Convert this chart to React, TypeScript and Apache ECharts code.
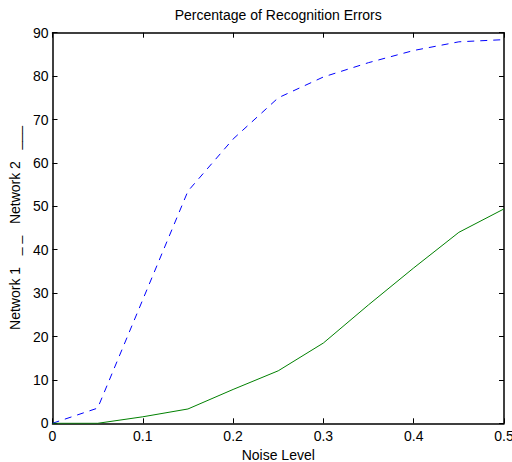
import React, { useEffect, useRef } from "react";
import * as echarts from "echarts";

const noiseLevels = [0, 0.05, 0.1, 0.15, 0.2, 0.25, 0.3, 0.35, 0.4, 0.45, 0.5];
const network1 = [0, 3.5, 28.5, 53.5, 65.5, 75, 79.8, 83.1, 85.9, 87.9, 88.4];
const network2 = [0, 0, 1.5, 3.3, 7.8, 12.1, 18.5, 27.3, 35.8, 44.0, 49.4];
const titleText = "Percentage of Recognition Errors";
const xName = "Noise Level";
const yName = "Network 1   _ _   Network 2   ___";

const FONT = "'Liberation Sans', Arial, Helvetica, sans-serif";

export default function App() {
  const ref = useRef<HTMLDivElement>(null);
  useEffect(() => {
    if (!ref.current) return;
    const chart = echarts.init(ref.current, undefined, { renderer: "svg" });
    const axisLine = { show: true, onZero: false, lineStyle: { color: "#000", width: 1.5 } };
    const tick = { show: true, inside: true, length: 5, lineStyle: { color: "#000", width: 1 } };
    const label = { color: "#000", fontSize: 14, fontFamily: FONT };
    chart.setOption({
      animation: false,
      backgroundColor: "#fff",
      grid: {
        left: 52.5,
        right: 8,
        top: 32.7,
        bottom: 38.7,
        containLabel: false,
        outerBoundsMode: "none",
      },
      xAxis: [
        {
          type: "value",
          min: 0,
          max: 0.5,
          interval: 0.1,
          position: "bottom",
          axisLine,
          axisTick: tick,
          axisLabel: { ...label, margin: 6 },
          splitLine: { show: false },
          name: xName,
          nameLocation: "middle",
          nameGap: 24,
          nameTextStyle: { color: "#000", fontSize: 14, fontFamily: FONT },
        },
        {
          type: "value",
          min: 0,
          max: 0.5,
          interval: 0.1,
          position: "top",
          axisLine,
          axisTick: tick,
          axisLabel: { show: false },
          splitLine: { show: false },
          name: titleText,
          nameLocation: "middle",
          nameGap: 11,
          nameTextStyle: { color: "#000", fontSize: 14, fontFamily: FONT },
        },
      ],
      yAxis: [
        {
          type: "value",
          min: 0,
          max: 90,
          interval: 10,
          position: "left",
          axisLine,
          axisTick: tick,
          axisLabel: { ...label, margin: 4 },
          splitLine: { show: false },
          name: yName,
          nameLocation: "middle",
          nameRotate: 90,
          nameGap: 27,
          nameTextStyle: { color: "#000", fontSize: 14, fontFamily: FONT },
        },
        {
          type: "value",
          min: 0,
          max: 90,
          interval: 10,
          position: "right",
          axisLine,
          axisTick: tick,
          axisLabel: { show: false },
          splitLine: { show: false },
        },
      ],
      series: [
        {
          type: "line",
          name: "Network 1",
          data: noiseLevels.map((x, i) => [x, network1[i]]),
          showSymbol: false,
          symbol: "none",
          lineStyle: { color: "#0000ff", width: 1, type: [7, 6] },
        },
        {
          type: "line",
          name: "Network 2",
          data: noiseLevels.map((x, i) => [x, network2[i]]),
          showSymbol: false,
          symbol: "none",
          lineStyle: { color: "#008000", width: 1, type: "solid" },
        },
      ],
    });
    return () => chart.dispose();
  }, []);
  return (
    <div
      ref={ref}
      style={{ position: "fixed", left: 0, top: 0, width: 512, height: 462 }}
    />
  );
}
